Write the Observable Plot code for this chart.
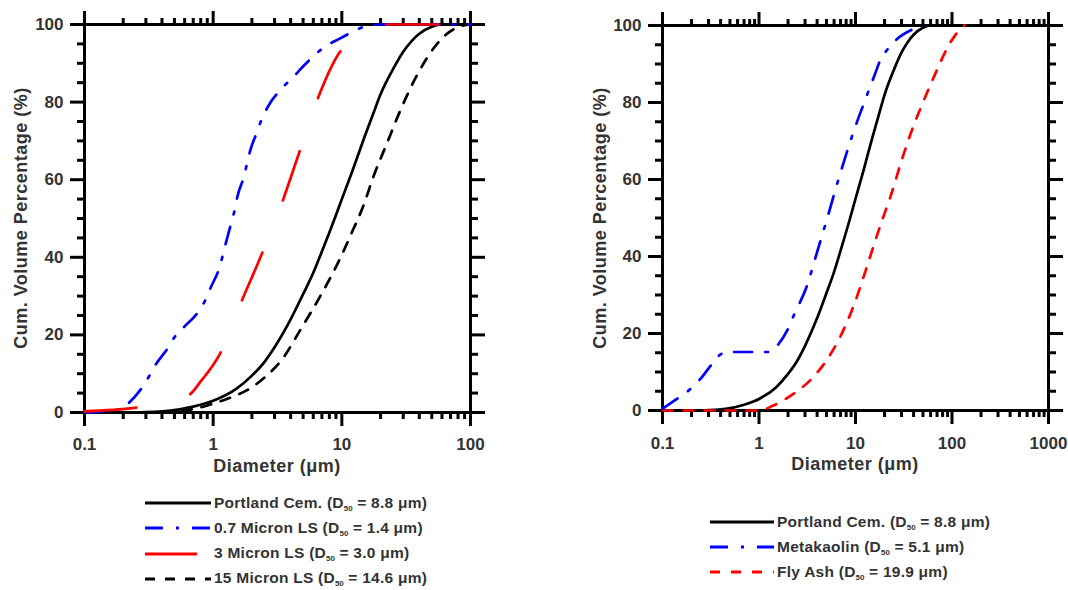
<!DOCTYPE html>
<html>
<head>
<meta charset="utf-8">
<script src="https://cdn.jsdelivr.net/npm/d3@7"></script>
<script src="https://cdn.jsdelivr.net/npm/@observablehq/plot@0.6"></script>
<style>
  body { margin: 0; background: #fff; }
  #wrap { position: relative; width: 1068px; height: 590px; overflow: hidden; font-family: "Liberation Sans", Arial, sans-serif; color: #333; }
  .panel { position: absolute; top: 0; }
  .ttl { position: absolute; font-weight: bold; font-size: 18px; letter-spacing: 0.5px; white-space: nowrap; transform: translate(-50%, -50%); }
  .ttl.rot { transform: translate(-50%, -50%) rotate(-90deg); }
  .leg { position: absolute; font-weight: bold; font-size: 15.5px; letter-spacing: 0.25px; white-space: nowrap; }
  .row { position: absolute; display: flex; align-items: center; height: 20px; transform: translateY(-50%); }
  .row svg { display: block; margin-right: 3px; }
  .row sub { font-size: 8px; vertical-align: -3px; letter-spacing: 0; }
</style>
</head>
<body>
<div id="wrap"></div>
<script>
// ---------- Data ----------
// Portland cement (both panels)
const pcD = [0.25,0.45,0.7,1,1.5,2,2.5,3,4,5,6,7,8.8,10,12,15,18,20,22,25,30,35,40,50,60,100];
const pcV = [0,0.4,1.5,3,6,9.5,13,16.8,24,30.5,36,41.5,50,55,62,71,78,82,85,88.5,93,95.8,97.6,99.4,100,100];
// 0.7 Micron LS
const lsSmallD = [0.1,0.15,0.2,0.22,0.27,0.32,0.36,0.44,0.5,0.6,0.76,0.87,0.96,1.11,1.26,1.38,1.47,1.55,1.72,1.94,2.18,2.38,2.67,3.26,4.2,5.1,7.2,9.8,12.3,15.8,20,100];
const lsSmallV = [0,0.3,1.2,2.4,5.7,9.5,12.5,16.4,19.4,22.2,25.8,29,32.3,37,43.9,48.8,52.2,55.9,60.4,67.5,72.1,75.5,78.9,82.8,86.5,89.5,94,96.5,98.2,99.7,100,100];
// 3 Micron LS
const lsMidD = [0.1,0.245,0.4,0.654,0.8,1.12,1.65,2.37,3.44,4.63,6.43,9.47,12,15,20,100];
const lsMidV = [0.3,1.2,2.3,4.6,8,14.9,28.4,40.6,54.2,66.7,80.5,92.5,96.5,98.8,100,100];
// 15 Micron LS
const lsBigD = [0.4,0.55,0.73,1,1.4,2,2.6,3.4,4.8,6.8,9.8,12,14.6,17.7,22.5,28.6,38.5,52,65,80,100];
const lsBigV = [0,0.3,1,2.3,4,6.5,9.5,13.5,21.5,30,40,46.5,53,61,69.5,78,87,94,97.5,99.3,100];
// Metakaolin
const mkD = [0.1,0.126,0.195,0.247,0.327,0.408,0.5,0.92,1.26,1.6,1.96,2.33,3.1,3.95,5.1,6.6,9.4,10.8,12.2,13.7,15.5,18,21.6,27,40,50];
const mkV = [0.5,2.2,5.6,8.2,12.1,14.7,15.2,15.2,15.2,17.3,20.8,25.1,32,40.7,50,59.7,71.9,76.2,79.7,83.1,86.6,90.9,93.9,96.5,99.1,100];
// Fly ash
const faD = [0.1,0.5,1,1.41,2.27,3.66,5,6.9,9.5,13,16.7,19.9,23,31,40,50,62,73,82,92,109,122,135];
const faV = [0,0,0,1.3,4.3,8.7,13,19,27,37,45.5,51,55.5,66,74,80,85.5,89.5,92.3,94.8,97.6,99.2,100];

// Tick values
const yMajor = [0,20,40,60,80,100];
const yMinor = [5,10,15,25,30,35,45,50,55,65,70,75,85,90,95];
const xMajorLeft = [0.1,1,10,100];
const xMajorRight = [0.1,1,10,100,1000];
const minorsFor = (lo, hi) => { const out=[]; for (let p=lo; p<hi; p++) for (let k=2; k<=9; k++) out.push(+(k*Math.pow(10,p)).toPrecision(3)); return out; };
const xMinorLeft = minorsFor(-1, 2);
const xMinorRight = minorsFor(-1, 3);

// Legend entries
const legendLeft = [
  {name: "Portland Cem.", d50: "8.8", color: "black", dash: null},
  {name: "0.7 Micron LS", d50: "1.4", color: "blue", dash: "18,13,3,13"},
  {name: "3 Micron LS", d50: "3.0", color: "red", dash: "52,56"},
  {name: "15 Micron LS", d50: "14.6", color: "black", dash: "10,10"}
];
const legendRight = [
  {name: "Portland Cem.", d50: "8.8", color: "black", dash: null},
  {name: "Metakaolin", d50: "5.1", color: "blue", dash: "18,13,3,13"},
  {name: "Fly Ash", d50: "19.9", color: "red", dash: "10,11"}
];

// ---------- Drawing ----------
const wrap = document.getElementById("wrap");
const FONT = "'Liberation Sans', Arial, sans-serif";
const fmt = d => String(d);
const blank = () => "";

function axes(xMajor, xMinor, tickPadX) {
  const common = {stroke: "black", strokeWidth: 3, fill: "#333", label: null};
  return [
    Plot.axisX({...common, anchor: "bottom", ticks: xMajor, tickSize: 14, tickPadding: tickPadX, tickFormat: fmt}),
    Plot.axisX({...common, anchor: "bottom", ticks: xMinor, tickSize: 7, tickFormat: blank}),
    Plot.axisX({...common, anchor: "top", ticks: xMajor, tickSize: 14, tickFormat: blank}),
    Plot.axisX({...common, anchor: "top", ticks: xMinor, tickSize: 7, tickFormat: blank}),
    Plot.axisY({...common, anchor: "left", ticks: yMajor, tickSize: 14, tickPadding: 7, tickFormat: fmt}),
    Plot.axisY({...common, anchor: "left", ticks: yMinor, tickSize: 7, tickFormat: blank}),
    Plot.axisY({...common, anchor: "right", ticks: yMajor, tickSize: 14, tickFormat: blank}),
    Plot.axisY({...common, anchor: "right", ticks: yMinor, tickSize: 7, tickFormat: blank}),
    Plot.frame({stroke: "black", strokeWidth: 3})
  ];
}

function series(D, V, color, dash) {
  return Plot.line(D, {x: D, y: V, stroke: color, strokeWidth: 2.7, strokeDasharray: dash ?? undefined, curve: "monotone-x"});
}

const style = {fontFamily: FONT, fontSize: "17px", fontWeight: "bold", color: "#333", background: "transparent", overflow: "visible"};

const left = Plot.plot({
  width: 500, height: 480,
  marginLeft: 84, marginRight: 30, marginTop: 24, marginBottom: 68,
  x: {type: "log", domain: [0.1, 100]},
  y: {domain: [0, 100]},
  style,
  marks: [
    ...axes(xMajorLeft, xMinorLeft, 11),
    series(pcD, pcV, "black", null),
    series(lsBigD, lsBigV, "black", legendLeft[3].dash),
    series(lsSmallD, lsSmallV, "blue", legendLeft[1].dash),
    series(lsMidD, lsMidV, "red", legendLeft[2].dash)
  ]
});
left.classList.add("panel");
left.style.left = "0px";
wrap.appendChild(left);

const right = Plot.plot({
  width: 508, height: 480,
  marginLeft: 102, marginRight: 20, marginTop: 25, marginBottom: 70,
  x: {type: "log", domain: [0.1, 1000]},
  y: {domain: [0, 100]},
  style,
  marks: [
    ...axes(xMajorRight, xMinorRight, 12),
    series(pcD, pcV, "black", null),
    series(faD, faV, "red", legendRight[2].dash),
    series(mkD, mkV, "blue", legendRight[1].dash)
  ]
});
right.classList.add("panel");
right.style.left = "560px";
wrap.appendChild(right);

// Axis titles
function title(text, cx, cy, rot) {
  const el = document.createElement("div");
  el.className = "ttl" + (rot ? " rot" : "");
  el.style.left = cx + "px";
  el.style.top = cy + "px";
  el.innerHTML = text;
  wrap.appendChild(el);
}
title("Cum. Volume Percentage (%)", 21, 218, true);
title("Cum. Volume Percentage (%)", 600, 218, true);
title("Diameter (&mu;m)", 277, 466, false);
title("Diameter (&mu;m)", 855, 464, false);

// Legends
function legend(entries, x, y0, step, lineW) {
  entries.forEach((e, i) => {
    const row = document.createElement("div");
    row.className = "row leg";
    row.style.left = x + "px";
    row.style.top = (y0 + i * step) + "px";
    const svg = `<svg width="${lineW}" height="6"><line x1="0" y1="3" x2="${lineW}" y2="3" stroke="${e.color}" stroke-width="3" ${e.dash ? `stroke-dasharray="${e.dash}"` : ""}/></svg>`;
    row.innerHTML = svg + `<span>${e.name} (D<sub>50</sub> = ${e.d50} &mu;m)</span>`;
    wrap.appendChild(row);
  });
}
legend(legendLeft, 145, 503, 25.3, 66);
legend(legendRight, 710, 522, 25, 64);
</script>
</body>
</html>
